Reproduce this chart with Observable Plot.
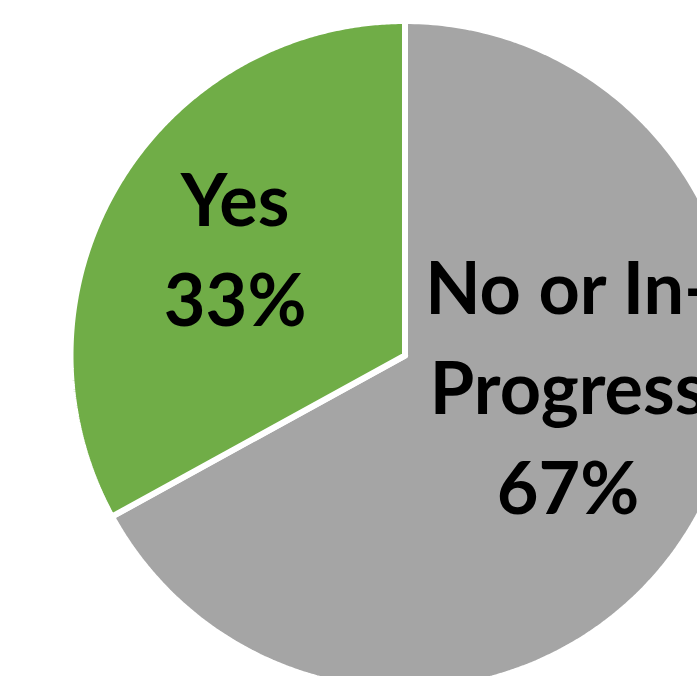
<!DOCTYPE html>
<html>
<head>
<meta charset="utf-8">
<script src="https://cdn.jsdelivr.net/npm/d3@7"></script>
<script src="https://cdn.jsdelivr.net/npm/@observablehq/plot@0.6"></script>
<style>
  html, body { margin: 0; padding: 0; background: white; overflow: hidden; }
  #chart { width: 697px; height: 676px; overflow: hidden; }
</style>
</head>
<body>
<div id="chart"></div>
<script>
// ---- data ----
const categories = ["No or In-Progress", "Yes"];
const values = [67, 33];
const sliceColors = ["#A5A5A5", "#70AD47"];

// ---- layout (pie units: radius = 1) ----
const W = 697, H = 676;
const cx = 404.5, cy = 355, scalePx = 334.5;
const xDomain = [-cx / scalePx, (W - cx) / scalePx];
const yDomain = [(cy - H) / scalePx, cy / scalePx];

const arcs = d3.pie().sort(null).value(d => d)(values);
const total = d3.sum(values);

// slice outlines
const slicePts = [];
arcs.forEach((a, i) => {
  const cat = categories[i];
  slicePts.push({cat, u: 0, v: 0});
  const n = 300;
  for (let k = 0; k <= n; k++) {
    const t = a.startAngle + (a.endAngle - a.startAngle) * k / n;
    slicePts.push({cat, u: Math.sin(t), v: Math.cos(t)});
  }
  slicePts.push({cat, u: 0, v: 0});
});

// label placement (radial fraction and angular tweak per slice)
const labelRadius = [0.50, 0.59];
const labelAngleShift = [-0.31, 0];
const labels = arcs.map((a, i) => {
  const mid = (a.startAngle + a.endAngle) / 2 + labelAngleShift[i];
  const pct = Math.round(values[i] / total * 100) + "%";
  const name = categories[i].replace("In-", "In-\n");
  return {cat: categories[i], u: labelRadius[i] * Math.sin(mid), v: labelRadius[i] * Math.cos(mid), text: name + "\n" + pct};
});

const chart = Plot.plot({
  width: W,
  height: H,
  margin: 0,
  x: {domain: xDomain, axis: null},
  y: {domain: yDomain, axis: null},
  color: {domain: categories, range: sliceColors},
  style: {background: "white", overflow: "hidden"},
  marks: [
    Plot.line(slicePts, {x: "u", y: "v", z: "cat", fill: "cat", stroke: "white", strokeWidth: 6, strokeLinejoin: "miter", curve: "linear"}),
    Plot.text(labels, {x: "u", y: "v", dy: -11, text: "text", fontSize: 72, fontWeight: "bold", fontFamily: "Lato", lineHeight: 1.39, fill: "#000"})
  ]
});
document.getElementById("chart").appendChild(chart);
</script>
</body>
</html>
